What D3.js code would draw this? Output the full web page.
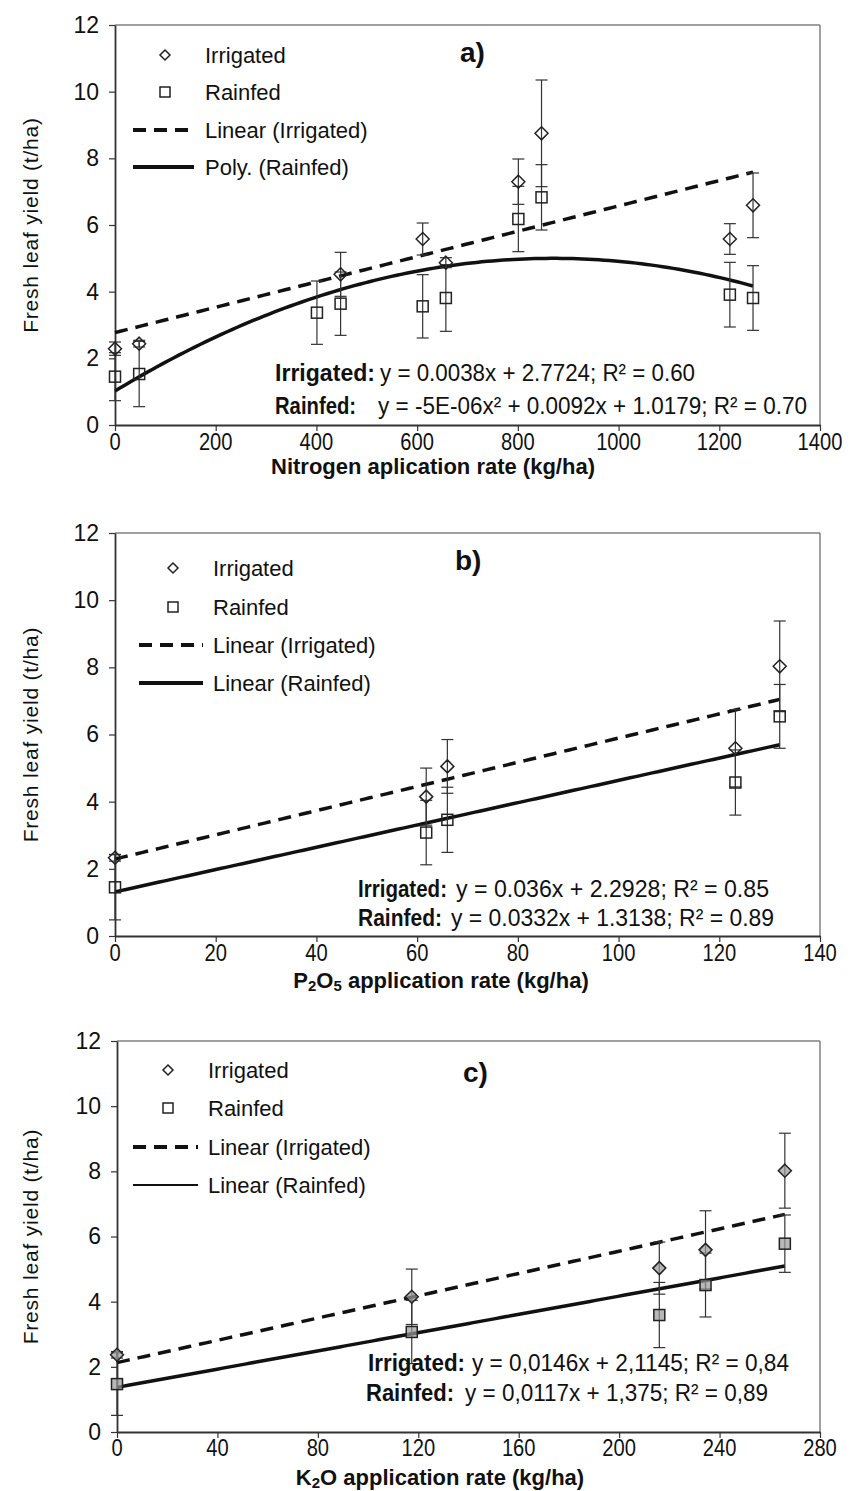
<!doctype html>
<html lang="en">
<head>
<meta charset="utf-8">
<title>Fresh leaf yield vs N, P2O5, K2O rate</title>
<script src="https://cdn.jsdelivr.net/npm/d3@7"></script>
<style>
  body { margin: 0; background: #fff; }
  svg text { font-family: Arial, "Liberation Sans", sans-serif; fill: #111; }
</style>
</head>
<body>
<script>
// values
var yTicks = [0, 2, 4, 6, 8, 10, 12];

// a) nitrogen
var nTicks = [0, 200, 400, 600, 800, 1000, 1200, 1400];
var nRate = [0, 48, 401, 448, 611, 657, 801, 847, 1221, 1267];
var nIrrigated = [2.29, 2.44, null, 4.52, 5.58, 4.87, 7.30, 8.75, 5.58, 6.59];
var nIrrigatedErr = [0.2, 0.1, null, 0.66, 0.48, 0.15, 0.68, 1.6, 0.46, 0.97];
var nRainfed = [1.45, 1.53, 3.37, 3.64, 3.56, 3.81, 6.18, 6.83, 3.91, 3.81];
var nRainfedErr = [0.72, 0.98, 0.95, 0.95, 0.95, 1.0, 0.98, 0.98, 0.97, 0.97];

// b) phosphorus
var pTicks = [0, 20, 40, 60, 80, 100, 120, 140];
var pRate = [0, 61.8, 66, 123.2, 132];
var pIrrigated = [2.33, 4.15, 5.05, 5.59, 8.03];
var pIrrigatedErr = [0.1, 0.85, 0.8, 1.15, 1.35];
var pRainfed = [1.45, 3.08, 3.46, 4.57, 6.54];
var pRainfedErr = [0.97, 0.96, 0.97, 0.97, 0.95];

// c) potassium
var kTicks = [0, 40, 80, 120, 160, 200, 240, 280];
var kRate = [0, 117.4, 216, 234.4, 266];
var kIrrigated = [2.37, 4.15, 5.03, 5.59, 8.02];
var kIrrigatedErr = [0.1, 0.85, 0.8, 1.2, 1.15];
var kRainfed = [1.47, 3.07, 3.59, 4.51, 5.78];
var kRainfedErr = [0.96, 0.97, 1.0, 0.98, 0.88];

// trendline coefficients [c, b, a] for y = c + b*x + a*x^2, as drawn
var trendIrrigated = [[2.7724, 0.0038, 0], [2.2928, 0.036, 0], [2.13, 0.0171, 0]];
var trendRainfed = [[1.02, 0.00915, -5.26e-6], [1.3138, 0.0332, 0], [1.37, 0.0140, 0]];

var tags = ['a)', 'b)', 'c)'];
var legendA = ['Irrigated', 'Rainfed', 'Linear (Irrigated)', 'Poly. (Rainfed)'];
var legendB = ['Irrigated', 'Rainfed', 'Linear (Irrigated)', 'Linear (Rainfed)'];
var legendC = ['Irrigated', 'Rainfed', 'Linear (Irrigated)', 'Linear (Rainfed)'];
var eqIrrigated = ['y = 0.0038x + 2.7724; R² = 0.60', 'y = 0.036x + 2.2928; R² = 0.85', 'y = 0,0146x + 2,1145; R² = 0,84'];
var eqRainfed = ['y = -5E-06x² + 0.0092x + 1.0179; R² = 0.70', 'y = 0.0332x + 1.3138; R² = 0.89', 'y = 0,0117x + 1,375; R² = 0,89'];
// axis titles as [text, subscript?] pieces
var xTitles = [
  [['Nitrogen aplication rate (kg/ha)', 0]],
  [['P', 0], ['2', 1], ['O', 0], ['5', 1], [' application rate (kg/ha)', 0]],
  [['K', 0], ['2', 1], ['O application rate (kg/ha)', 0]]
];
var yTitle = 'Fresh leaf yield (t/ha)';

// layout of each panel
var panels = [
  { rate: nRate, irr: nIrrigated, irrErr: nIrrigatedErr, rain: nRainfed, rainErr: nRainfedErr,
    ticks: nTicks, legend: legendA, box: [115, 25, 820, 425], legY: [55, 92, 130, 167],
    legX: [133, 165, 194, 205], legSolid: 4, tag: [460, 62], tickY: 450, titleX: 433, titleY: 474,
    eq: { y: [381, 414], lx: [275, 275], lw: [100, 81], ex: [380, 378], ew: [315, 429] }, fill: 'none' },
  { rate: pRate, irr: pIrrigated, irrErr: pIrrigatedErr, rain: pRainfed, rainErr: pRainfedErr,
    ticks: pTicks, legend: legendB, box: [115, 533, 820, 936], legY: [568, 607, 645, 683],
    legX: [139, 173, 203, 213], legSolid: 4, tag: [455, 570], tickY: 961, titleX: 441, titleY: 988,
    eq: { y: [897, 926], lx: [358, 358], lw: [89, 84], ex: [456, 451], ew: [313, 323] }, fill: 'none' },
  { rate: kRate, irr: kIrrigated, irrErr: kIrrigatedErr, rain: kRainfed, rainErr: kRainfedErr,
    ticks: kTicks, legend: legendC, box: [117, 1041, 820, 1432], legY: [1070, 1108, 1147, 1185],
    legX: [133, 168, 198, 208], legSolid: 2, tag: [463, 1082], tickY: 1456, titleX: 440, titleY: 1485,
    eq: { y: [1371, 1401], lx: [368, 366], lw: [97, 88], ex: [472, 465], ew: [317, 303] }, fill: '#9a9a9a' }
];

var width = 854, height = 1491;
var svg = d3.select('body').append('svg')
  .attr('width', width)
  .attr('height', height);

function diamond(sel, x, y, r, fill) {
  sel.append('path')
    .attr('d', 'M' + x + ',' + (y - r) + 'L' + (x + r) + ',' + y + 'L' + x + ',' + (y + r) + 'L' + (x - r) + ',' + y + 'Z')
    .attr('fill', fill).attr('fill-opacity', 0.7)
    .attr('stroke', '#222').attr('stroke-width', 1.5);
}
function square(sel, x, y, r, fill) {
  sel.append('rect')
    .attr('x', x - r).attr('y', y - r).attr('width', 2 * r).attr('height', 2 * r)
    .attr('fill', fill).attr('fill-opacity', 0.7)
    .attr('stroke', '#222').attr('stroke-width', 1.5);
}

panels.forEach(function(p, i) {
  var g = svg.append('g');
  var b = p.box;
  var x = d3.scaleLinear().domain([0, p.ticks[p.ticks.length - 1]]).range([b[0], b[2]]);
  var y = d3.scaleLinear().domain([0, 12]).range([b[3], b[1]]);

  // plot frame: top/right grey, axes dark
  g.append('line').attr('x1', b[0]).attr('x2', b[2]).attr('y1', b[1]).attr('y2', b[1])
    .attr('stroke', '#808080').attr('stroke-width', 1.5);
  g.append('line').attr('x1', b[2]).attr('x2', b[2]).attr('y1', b[1]).attr('y2', b[3])
    .attr('stroke', '#808080').attr('stroke-width', 1.5);

  var yAxis = g.append('g').attr('transform', 'translate(' + b[0] + ',0)')
    .call(d3.axisLeft(y).tickValues(yTicks).tickSize(6).tickPadding(10).tickSizeOuter(0));
  var xAxis = g.append('g').attr('transform', 'translate(0,' + b[3] + ')')
    .call(d3.axisBottom(x).tickValues(p.ticks).tickSize(6).tickSizeOuter(0).tickFormat(''));
  [yAxis, xAxis].forEach(function(a) {
    a.select('.domain').attr('stroke', '#333').attr('stroke-width', 1.8);
    a.selectAll('.tick line').attr('stroke', '#333').attr('stroke-width', 1.2);
  });
  yAxis.selectAll('.tick text').attr('font-size', 23).attr('fill', '#111')
    .attr('font-family', 'Arial, "Liberation Sans", sans-serif');

  // x tick labels, condensed like the original narrow face
  g.selectAll('.xlab').data(p.ticks).enter().append('text')
    .attr('transform', function(d) { return 'translate(' + x(d) + ',' + p.tickY + ') scale(0.84,1)'; })
    .attr('text-anchor', 'middle').attr('font-size', 24)
    .text(function(d) { return d; });

  // axis titles
  var xt = g.append('text').attr('x', p.titleX).attr('y', p.titleY)
    .attr('text-anchor', 'middle').attr('font-size', 22).attr('font-weight', 'bold');
  xTitles[i].forEach(function(part) {
    var ts = xt.append('tspan').text(part[0]);
    if (part[1]) ts.attr('font-size', 15).attr('baseline-shift', '-20%');
  });
  g.append('text')
    .attr('transform', 'translate(38,' + (b[1] + b[3]) / 2 + ') rotate(-90)')
    .attr('text-anchor', 'middle').attr('font-size', 21).attr('letter-spacing', 0.8)
    .text(yTitle);

  // trendlines
  var xEnd = p.rate[p.rate.length - 1];
  var xs = d3.range(0, xEnd, xEnd / 120).concat([xEnd]);
  function trend(c) {
    return d3.line()
      .x(function(v) { return x(v); })
      .y(function(v) { return y(c[0] + c[1] * v + c[2] * v * v); })(xs);
  }
  g.append('path').attr('d', trend(trendRainfed[i]))
    .attr('fill', 'none').attr('stroke', '#111').attr('stroke-width', 3.5);
  g.append('path').attr('d', trend(trendIrrigated[i]))
    .attr('fill', 'none').attr('stroke', '#111').attr('stroke-width', 3.5)
    .attr('stroke-dasharray', '13,8');

  // error bars
  function errBars(vals, errs) {
    p.rate.forEach(function(r, j) {
      if (vals[j] == null || !errs[j]) return;
      var cx = x(r), y0 = y(vals[j] - errs[j]), y1 = y(vals[j] + errs[j]);
      g.append('line').attr('x1', cx).attr('x2', cx).attr('y1', y0).attr('y2', y1)
        .attr('stroke', '#333').attr('stroke-width', 1.2);
      [y0, y1].forEach(function(yy) {
        g.append('line').attr('x1', cx - 6).attr('x2', cx + 6).attr('y1', yy).attr('y2', yy)
          .attr('stroke', '#333').attr('stroke-width', 1.2);
      });
    });
  }
  errBars(p.rain, p.rainErr);
  errBars(p.irr, p.irrErr);

  p.rate.forEach(function(r, j) {
    if (p.rain[j] != null) square(g, x(r), y(p.rain[j]), 5.5, p.fill);
    if (p.irr[j] != null) diamond(g, x(r), y(p.irr[j]), 6.5, p.fill);
  });

  // legend
  var L = p.legX, ly = p.legY;
  diamond(g, L[1], ly[0], 5, 'none');
  square(g, L[1], ly[1], 5, 'none');
  g.append('line').attr('x1', L[0]).attr('x2', L[2]).attr('y1', ly[2]).attr('y2', ly[2])
    .attr('stroke', '#111').attr('stroke-width', 4).attr('stroke-dasharray', '13,8');
  g.append('line').attr('x1', L[0]).attr('x2', L[2]).attr('y1', ly[3]).attr('y2', ly[3])
    .attr('stroke', '#111').attr('stroke-width', p.legSolid);
  p.legend.forEach(function(t, k) {
    g.append('text').attr('x', L[3]).attr('y', ly[k] + 8).attr('font-size', 22).text(t);
  });

  // panel tag
  g.append('text').attr('x', p.tag[0]).attr('y', p.tag[1])
    .attr('font-size', 28).attr('font-weight', 'bold').text(tags[i]);

  // equations, squeezed to the widths they take in the figure
  var e = p.eq;
  [['Irrigated:', eqIrrigated[i]], ['Rainfed:', eqRainfed[i]]].forEach(function(row, k) {
    g.append('text').attr('x', e.lx[k]).attr('y', e.y[k])
      .attr('font-size', 24).attr('font-weight', 'bold')
      .attr('textLength', e.lw[k]).attr('lengthAdjust', 'spacingAndGlyphs')
      .text(row[0]);
    g.append('text').attr('x', e.ex[k]).attr('y', e.y[k])
      .attr('font-size', 24)
      .attr('textLength', e.ew[k]).attr('lengthAdjust', 'spacingAndGlyphs')
      .text(row[1]);
  });
});
</script>
</body>
</html>
